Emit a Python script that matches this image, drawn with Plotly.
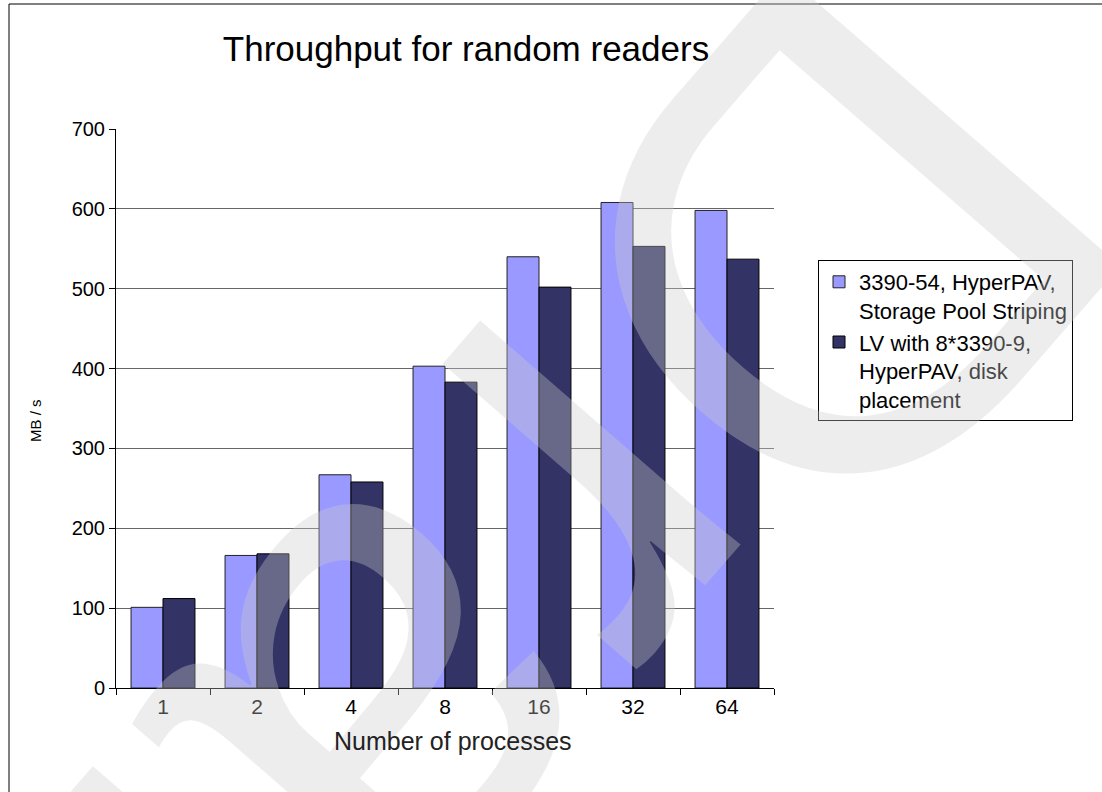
import plotly.graph_objects as go

# Throughput of random readers, MB/s, per number of processes
processes = ["1", "2", "4", "8", "16", "32", "64"]
striping_mbs = [101, 166, 267, 403, 540, 608, 598]
lv_mbs = [112, 168, 258, 383, 502, 553, 537]

series_names = [
    "3390-54, HyperPAV,<br>Storage Pool Striping",
    "LV with 8*3390-9,<br>HyperPAV, disk<br>placement",
]
y_ticks = [0, 100, 200, 300, 400, 500, 600, 700]

W, H = 1102, 792
# plot area in pixels
L, R, T, B = 116, 774, 129, 688
PW, PH = R - L, B - T


def px(x):
    return (x - L) / PW


def py(y):
    return (B - y) / PH


FONT = "Liberation Sans, Arial, sans-serif"

fig = go.Figure()
fig.add_trace(go.Bar(
    x=processes, y=striping_mbs, name=series_names[0],
    marker=dict(color="#9999FF", line=dict(color="#222222", width=1)),
))
fig.add_trace(go.Bar(
    x=processes, y=lv_mbs, name=series_names[1],
    marker=dict(color="#333366", line=dict(color="#000000", width=1)),
))

fig.update_layout(
    width=W, height=H,
    margin=dict(l=L, r=W - R, t=T, b=H - B, pad=0),
    paper_bgcolor="white", plot_bgcolor="white",
    barmode="group", bargap=0.32, bargroupgap=0,
    font=dict(family=FONT, color="#000000"),
    title=dict(
        text="Throughput for random readers",
        font=dict(size=35, family=FONT, color="#000000"),
        xref="container", x=466 / W, xanchor="center",
        yref="container", y=1 - 49 / H, yanchor="middle",
    ),
    legend=dict(
        x=px(818), y=py(260), xanchor="left", yanchor="top",
        bordercolor="#000000", borderwidth=1, bgcolor="rgba(255,255,255,0)",
        font=dict(size=22, family=FONT, color="#000000"),
        valign="top", tracegroupgap=0,
    ),
    xaxis=dict(
        type="category", showgrid=False,
        showline=True, linecolor="#000000", linewidth=1,
        ticks="outside", tickson="boundaries", ticklen=6,
        tickcolor="#000000", tickfont=dict(size=21, family=FONT),
    ),
    yaxis=dict(
        range=[0, 700], tickvals=y_ticks, ticktext=[str(v) for v in y_ticks],
        showgrid=True, gridcolor="#666666", gridwidth=1,
        showline=True, linecolor="#000000", linewidth=1,
        ticks="outside", ticklen=6, tickcolor="#000000",
        tickfont=dict(size=20, family=FONT), zeroline=False,
    ),
    showlegend=True,
)

annotations = [
    # translucent diagonal watermark, drawn first so the labels sit above it
    dict(text="Draft", x=px(525), y=py(612), textangle=131,
         xref="paper", yref="paper", showarrow=False,
         xanchor="center", yanchor="middle",
         font=dict(size=650, family=FONT, color="rgba(204,204,204,0.35)")),
    dict(text="Number of processes", x=px(453), y=py(741),
         xref="paper", yref="paper", showarrow=False,
         xanchor="center", yanchor="middle",
         font=dict(size=25, family=FONT, color="#222222")),
    dict(text="MB / s", x=px(35), y=py(421), textangle=-90,
         xref="paper", yref="paper", showarrow=False,
         xanchor="center", yanchor="middle",
         font=dict(size=15, family=FONT, color="#000000")),
]
fig.update_layout(annotations=annotations)

# page frame (top and left edges)
fig.add_shape(type="line", xref="paper", yref="paper",
              x0=px(9), x1=px(W + 10), y0=py(4), y1=py(4),
              line=dict(color="#000000", width=1))
fig.add_shape(type="line", xref="paper", yref="paper",
              x0=px(9), x1=px(9), y0=py(4), y1=py(H + 10),
              line=dict(color="#000000", width=1))

fig.write_html("out.html")
